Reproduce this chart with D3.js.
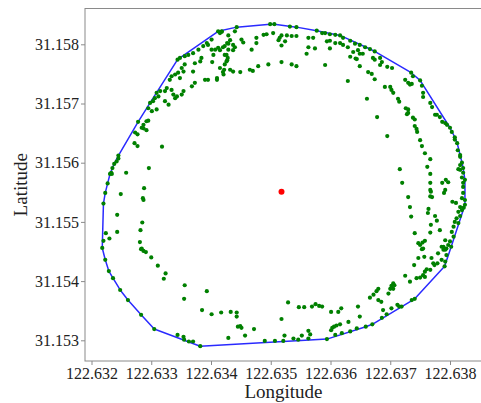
<!DOCTYPE html>
<html>
<head>
<meta charset="utf-8">
<script src="https://cdn.jsdelivr.net/npm/d3@7"></script>
<style>
  html, body { margin: 0; padding: 0; background: #fff; }
  svg { display: block; }
  text { font-family: "Liberation Serif", "Times New Roman", serif; fill: #222; }
</style>
</head>
<body>
<svg id="chart" width="481" height="403"></svg>
<script>
// ---- data ----
const xTicks = [122.632, 122.633, 122.634, 122.635, 122.636, 122.637, 122.638];
const yTicks = [31.153, 31.154, 31.155, 31.156, 31.157, 31.158];
const xLabel = "Longitude";
const yLabel = "Latitude";
const center = [122.63518, 31.15551];
// GPS fixes [longitude, latitude]
const gpsPoints = [
[122.63401,31.15808],[122.63395,31.15799],[122.63387,31.15797],[122.63379,31.15791],[122.63370,31.15785],
[122.63362,31.15782],[122.63356,31.15780],[122.63348,31.15777],[122.63384,31.15777],[122.63382,31.15771],
[122.63401,31.15791],[122.63404,31.15782],[122.63373,31.15768],[122.63356,31.15766],[122.63351,31.15760],
[122.63354,31.15754],[122.63345,31.15752],[122.63340,31.15749],[122.63334,31.15746],[122.63331,31.15740],
[122.63348,31.15743],[122.63370,31.15754],[122.63390,31.15740],[122.63395,31.15740],[122.63373,31.15735],
[122.63368,31.15729],[122.63326,31.15726],[122.63323,31.15721],[122.63315,31.15721],[122.63309,31.15718],
[122.63312,31.15712],[122.63334,31.15723],[122.63337,31.15715],[122.63343,31.15712],[122.63351,31.15715],
[122.63354,31.15721],[122.63340,31.15709],[122.63323,31.15704],[122.63329,31.15698],[122.63306,31.15709],
[122.63303,31.15704],[122.63298,31.15701],[122.63295,31.15692],[122.63301,31.15687],[122.63309,31.15690],
[122.63292,31.15670],[122.63287,31.15664],[122.63284,31.15659],[122.63344,31.15774],[122.63410,31.15743],
[122.63415,31.15760],[122.63420,31.15753],[122.63432,31.15757],[122.63393,31.15802],[122.63415,31.15790],
[122.63420,31.15795],[122.63427,31.15802],[122.63432,31.15807],[122.63415,31.15819],[122.63418,31.15821],
[122.63402,31.15770],[122.63427,31.15773],[122.63423,31.15782],[122.63437,31.15790],[122.63440,31.15795],
[122.63318,31.15627],[122.63296,31.15591],[122.63258,31.15583],[122.63249,31.15547],[122.63288,31.15557],
[122.63286,31.15540],[122.63499,31.15834],[122.63506,31.15834],[122.63532,31.15830],[122.63543,31.15829],
[122.63577,31.15823],[122.63443,31.15829],[122.63418,31.15822],[122.63412,31.15822],[122.63488,31.15816],
[122.63493,31.15817],[122.63504,31.15819],[122.63518,31.15815],[122.63527,31.15815],[122.63535,31.15814],
[122.63543,31.15814],[122.63515,31.15811],[122.63524,31.15805],[122.63513,31.15807],[122.63476,31.15811],
[122.63451,31.15808],[122.63454,31.15803],[122.63440,31.15822],[122.63429,31.15815],[122.63476,31.15802],
[122.63468,31.15791],[122.63437,31.15799],[122.63429,31.15801],[122.63423,31.15797],[122.63412,31.15794],
[122.63407,31.15791],[122.63429,31.15791],[122.63426,31.15782],[122.63428,31.15777],[122.63426,31.15771],
[122.63423,31.15766],[122.63422,31.15757],[122.63437,31.15754],[122.63449,31.15753],[122.63465,31.15757],
[122.63479,31.15763],[122.63496,31.15766],[122.63518,31.15770],[122.63535,31.15766],[122.63543,31.15763],
[122.63421,31.15749],[122.63410,31.15740],[122.63518,31.15798],[122.63563,31.15811],[122.63571,31.15811],
[122.63563,31.15795],[122.63574,31.15793],[122.63560,31.15784],[122.63591,31.15819],[122.63594,31.15805],
[122.63599,31.15806],[122.63599,31.15793],[122.63608,31.15802],[122.63616,31.15802],[122.63591,31.15765],
[122.63599,31.15817],[122.63608,31.15816],[122.63616,31.15815],[122.63586,31.15819],[122.63621,31.15811],
[122.63633,31.15806],[122.63649,31.15799],[122.63658,31.15795],[122.63666,31.15792],[122.63621,31.15799],
[122.63629,31.15795],[122.63638,31.15787],[122.63646,31.15790],[122.63649,31.15784],[122.63654,31.15784],
[122.63671,31.15777],[122.63683,31.15777],[122.63686,31.15770],[122.63683,31.15765],[122.63695,31.15762],
[122.63703,31.15760],[122.63633,31.15779],[122.63644,31.15775],[122.63649,31.15763],[122.63663,31.15753],
[122.63669,31.15750],[122.63674,31.15741],[122.63629,31.15738],[122.63661,31.15708],[122.63678,31.15677],
[122.63695,31.15645],[122.63735,31.15752],[122.63738,31.15746],[122.63725,31.15740],[122.63730,31.15735],
[122.63736,31.15733],[122.63753,31.15730],[122.63755,31.15718],[122.63691,31.15728],[122.63700,31.15728],
[122.63705,31.15718],[122.63713,31.15708],[122.63726,31.15692],[122.63730,31.15684],[122.63738,31.15676],
[122.63741,31.15662],[122.63745,31.15652],[122.63750,31.15638],[122.63753,31.15628],[122.63758,31.15616],
[122.63767,31.15606],[122.63762,31.15593],[122.63767,31.15581],[122.63767,31.15566],[122.63768,31.15551],
[122.63770,31.15542],[122.63716,31.15589],[122.63720,31.15566],[122.63730,31.15542],[122.63787,31.15566],
[122.63793,31.15571],[122.63797,31.15567],[122.63790,31.15549],[122.63767,31.15701],[122.63770,31.15694],
[122.63778,31.15681],[122.63783,31.15677],[122.63787,31.15669],[122.63795,31.15664],[122.63800,31.15659],
[122.63803,31.15652],[122.63808,31.15643],[122.63812,31.15633],[122.63813,31.15621],[122.63817,31.15610],
[122.63820,31.15600],[122.63822,31.15591],[122.63817,31.15588],[122.63822,31.15583],[122.63825,31.15571],
[122.63822,31.15559],[122.63822,31.15549],[122.63470,31.15755],[122.63641,31.15801],[122.63674,31.15788],
[122.63642,31.15776],[122.63674,31.15774],[122.63750,31.15739],[122.63733,31.15732],[122.63755,31.15711],
[122.63702,31.15723],[122.63715,31.15703],[122.63730,31.15690],[122.63728,31.15682],[122.63775,31.15681],
[122.63792,31.15667],[122.63741,31.15673],[122.63744,31.15657],[122.63767,31.15554],[122.63767,31.15543],
[122.63733,31.15525],[122.63735,31.15509],[122.63764,31.15522],[122.63763,31.15515],[122.63775,31.15510],
[122.63778,31.15502],[122.63768,31.15495],[122.63783,31.15486],[122.63741,31.15481],[122.63792,31.15554],
[122.63804,31.15534],[122.63810,31.15532],[122.63758,31.15468],[122.63754,31.15465],[122.63747,31.15464],
[122.63755,31.15455],[122.63750,31.15461],[122.63792,31.15469],[122.63786,31.15458],[122.63794,31.15455],
[122.63808,31.15639],[122.63817,31.15613],[122.63817,31.15596],[122.63814,31.15589],[122.63820,31.15575],
[122.63822,31.15566],[122.63820,31.15540],[122.63825,31.15529],[122.63825,31.15537],[122.63823,31.15524],
[122.63817,31.15525],[122.63820,31.15520],[122.63814,31.15517],[122.63817,31.15510],[122.63811,31.15506],
[122.63808,31.15500],[122.63814,31.15498],[122.63806,31.15492],[122.63803,31.15483],[122.63806,31.15475],
[122.63800,31.15467],[122.63797,31.15461],[122.63802,31.15458],[122.63792,31.15453],[122.63789,31.15458],
[122.63789,31.15453],[122.63780,31.15447],[122.63794,31.15444],[122.63786,31.15436],[122.63792,31.15433],
[122.63779,31.15430],[122.63774,31.15427],[122.63791,31.15425],[122.63761,31.15420],[122.63767,31.15419],
[122.63758,31.15416],[122.63755,31.15410],[122.63747,31.15439],[122.63757,31.15441],[122.63740,31.15427],
[122.63725,31.15409],[122.63733,31.15399],[122.63744,31.15405],[122.63750,31.15406],[122.63758,31.15407],
[122.63705,31.15396],[122.63702,31.15392],[122.63707,31.15393],[122.63700,31.15387],[122.63705,31.15387],
[122.63697,31.15379],[122.63680,31.15387],[122.63677,31.15383],[122.63672,31.15377],[122.63666,31.15372],
[122.63680,31.15368],[122.63685,31.15365],[122.63688,31.15351],[122.63702,31.15354],[122.63712,31.15360],
[122.63715,31.15357],[122.63719,31.15357],[122.63736,31.15368],[122.63741,31.15370],[122.63694,31.15344],
[122.63686,31.15338],[122.63670,31.15327],[122.63659,31.15323],[122.63644,31.15320],[122.63633,31.15315],
[122.63619,31.15312],[122.63608,31.15309],[122.63594,31.15302],[122.63603,31.15321],[122.63606,31.15323],
[122.63610,31.15325],[122.63616,31.15327],[122.63601,31.15317],[122.63630,31.15331],[122.63649,31.15340],
[122.63646,31.15357],[122.63618,31.15354],[122.63613,31.15348],[122.63601,31.15348],[122.63586,31.15357],
[122.63581,31.15358],[122.63575,31.15361],[122.63569,31.15357],[122.63556,31.15356],[122.63547,31.15356],
[122.63529,31.15364],[122.63518,31.15336],[122.63566,31.15310],[122.63563,31.15316],[122.63552,31.15308],
[122.63538,31.15303],[122.63546,31.15301],[122.63523,31.15308],[122.63521,31.15299],[122.63507,31.15299],
[122.63490,31.15299],[122.63472,31.15319],[122.63457,31.15308],[122.63563,31.15303],[122.63767,31.15482],
[122.63753,31.15454],[122.63769,31.15439],[122.63772,31.15430],[122.63449,31.15324],[122.63218,31.15456],
[122.63223,31.15436],[122.63229,31.15417],[122.63236,31.15405],[122.63248,31.15385],[122.63261,31.15368],
[122.63283,31.15343],[122.63305,31.15319],[122.63344,31.15309],[122.63354,31.15306],[122.63355,31.15301],
[122.63363,31.15298],[122.63370,31.15298],[122.63382,31.15290],[122.63283,31.15454],[122.63287,31.15451],
[122.63291,31.15449],[122.63300,31.15440],[122.63311,31.15426],[122.63324,31.15413],[122.63321,31.15404],
[122.63356,31.15393],[122.63355,31.15370],[122.63393,31.15383],[122.63385,31.15351],[122.63401,31.15344],
[122.63417,31.15347],[122.63433,31.15348],[122.63443,31.15347],[122.63443,31.15340],[122.63445,31.15323],
[122.63451,31.15321],[122.63429,31.15304],[122.63220,31.15531],[122.63224,31.15481],[122.63230,31.15472],
[122.63220,31.15468],[122.63243,31.15512],[122.63243,31.15483],[122.63287,31.15537],[122.63285,31.15499],
[122.63282,31.15486],[122.63281,31.15466],[122.63278,31.15669],[122.63295,31.15671],[122.63287,31.15658],
[122.63292,31.15655],[122.63273,31.15651],[122.63277,31.15648],[122.63272,31.15633],[122.63277,31.15628],
[122.63245,31.15607],[122.63242,31.15602],[122.63238,31.15598],[122.63235,31.15591],[122.63233,31.15583],
[122.63231,31.15581],[122.63234,31.15581],[122.63227,31.15565],[122.63223,31.15549],[122.63284,31.15455],
[122.63245,31.15612]
];

// ---- layout ----
const svg = d3.select("#chart");
const frame = { left: 85, top: 8.5, right: 482, bottom: 361 };

const x = d3.scaleLinear().domain([122.632, 122.638]).range([91.5, 450]);
const y = d3.scaleLinear().domain([31.153, 31.158]).range([340.3, 44.3]);

const fmt = d3.format(".3f");
const serif = '"Liberation Serif", "Times New Roman", serif';

// frame
svg.append("rect")
  .attr("x", frame.left).attr("y", frame.top)
  .attr("width", frame.right - frame.left).attr("height", frame.bottom - frame.top)
  .attr("fill", "none").attr("stroke", "#8a8a8a").attr("stroke-width", 1);

// x axis
const gx = svg.append("g").attr("transform", `translate(0,${frame.bottom})`)
  .call(d3.axisBottom(x).tickValues(xTicks).tickFormat(fmt).tickSize(4).tickPadding(3))
  .attr("font-family", serif).attr("font-size", 16);
gx.select(".domain").remove();
gx.selectAll(".tick line").attr("stroke", "#8a8a8a");
gx.selectAll(".tick text").attr("fill", "#222");

// y axis
const gy = svg.append("g").attr("transform", `translate(${frame.left},0)`)
  .call(d3.axisLeft(y).tickValues(yTicks).tickFormat(fmt).tickSize(4).tickPadding(2))
  .attr("font-family", serif).attr("font-size", 16);
gy.select(".domain").remove();
gy.selectAll(".tick line").attr("stroke", "#8a8a8a");
gy.selectAll(".tick text").attr("fill", "#222");

// axis labels
svg.append("text")
  .attr("x", (frame.left + frame.right) / 2).attr("y", 398)
  .attr("text-anchor", "middle").style("font-size", "19px")
  .text(xLabel);
svg.append("text")
  .attr("transform", `translate(27,${(frame.top + frame.bottom) / 2}) rotate(-90)`)
  .attr("text-anchor", "middle").style("font-size", "19px")
  .text(yLabel);

// plot layer clipped to frame
svg.append("clipPath").attr("id", "clip").append("rect")
  .attr("x", frame.left).attr("y", frame.top)
  .attr("width", frame.right - frame.left).attr("height", frame.bottom - frame.top);
const plot = svg.append("g").attr("clip-path", "url(#clip)");

// convex hull from the points
const projected = gpsPoints.map(d => [x(d[0]), y(d[1])]);
const hull = d3.polygonHull(projected);
plot.append("path")
  .attr("d", "M" + hull.map(p => p.join(",")).join("L") + "Z")
  .attr("fill", "none").attr("stroke", "#2a2aff").attr("stroke-width", 1.5)
  .attr("stroke-linejoin", "round");

// points
plot.selectAll("circle.pt").data(gpsPoints).join("circle")
  .attr("class", "pt")
  .attr("cx", d => x(d[0])).attr("cy", d => y(d[1]))
  .attr("r", 2.1).attr("fill", "#008000");

// center
plot.append("circle")
  .attr("cx", x(center[0])).attr("cy", y(center[1]))
  .attr("r", 3).attr("fill", "#ff0000");
</script>
</body>
</html>
